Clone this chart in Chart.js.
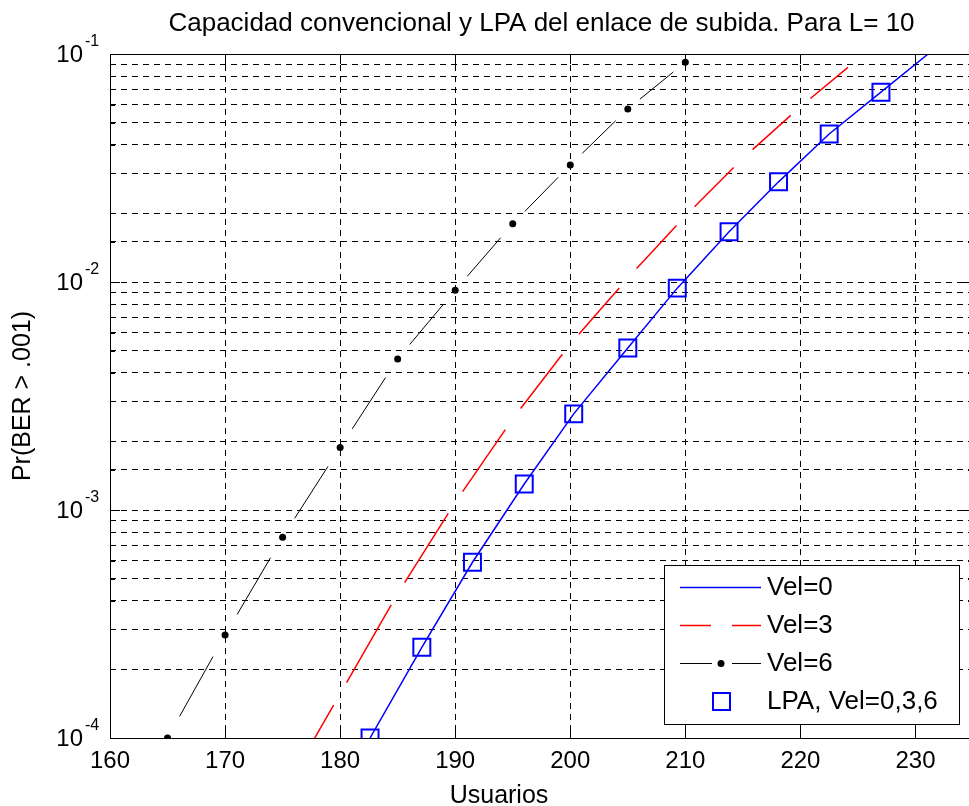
<!DOCTYPE html>
<html>
<head>
<meta charset="utf-8">
<title>Capacidad convencional y LPA del enlace de subida</title>
<script src="https://cdn.jsdelivr.net/npm/chart.js@4.4.1/dist/chart.umd.min.js"></script>
<style>
  html, body { margin: 0; padding: 0; background: #fff; overflow: hidden; }
  #wrap { width: 980px; height: 806px; }
</style>
</head>
<body>
<div id="wrap"><canvas id="berChart" width="980" height="806"></canvas></div>
<script>
const FONT = 'Arial, "Liberation Sans", Helvetica, sans-serif';

// Vel=0 : curva continua
const vel0Users = [182.6, 187.1, 191.5, 196.0, 200.3, 205.0, 209.3, 213.8, 218.1, 222.5, 227.0, 231.1];
const vel0Prob  = [1.0e-4, 2.5e-4, 5.9e-4, 1.3e-3, 2.64e-3, 5.14e-3, 9.4e-3, 1.66e-2, 2.75e-2, 4.46e-2, 6.8e-2, 1.0e-1];

// Vel=3 : discontinua
const vel3Users = [175, 180, 185, 190, 195, 200, 205, 210, 215, 220, 225];
const vel3Prob  = [5.7e-5, 1.56e-4, 4.3e-4, 1.08e-3, 2.51e-3, 5.35e-3, 1.04e-2, 1.95e-2, 3.49e-2, 5.87e-2, 9.5e-2];

// Vel=6 : raya-punto con marcadores
const vel6Users = [165, 170, 175, 180, 185, 190, 195, 200, 205, 210];
const vel6Prob  = [1.0e-4, 2.83e-4, 7.6e-4, 1.88e-3, 4.6e-3, 9.2e-3, 1.8e-2, 3.26e-2, 5.74e-2, 9.2e-2];

// LPA (mismos puntos para Vel=0,3,6)
const lpaUsers = [182.6, 187.1, 191.5, 196.0, 200.3, 205.0, 209.3, 213.8, 218.1, 222.5, 227.0];
const lpaProb  = [1.0e-4, 2.5e-4, 5.9e-4, 1.3e-3, 2.64e-3, 5.14e-3, 9.4e-3, 1.66e-2, 2.75e-2, 4.46e-2, 6.8e-2];

const xMin = 160, xMax = 235, xStep = 10;
const yMin = 1e-4, yMax = 1e-1;

const legendLabels = ['Vel=0', 'Vel=3', 'Vel=6', 'LPA, Vel=0,3,6'];

function toPoints(xs, ys) {
    return xs.map((x, i) => ({ x: x, y: ys[i] }));
}

// each segment gets its own dash so the gaps sit at the data points
function gappedDash(gapFn) {
    return function(ctx) {
        const len = Math.hypot(ctx.p1.x - ctx.p0.x, ctx.p1.y - ctx.p0.y);
        const gap = gapFn(len);
        return [0, gap, Math.max(len - 2 * gap, 1), len + 100];
    };
}

const frameAndLegend = {
    id: 'frameAndLegend',
    afterDraw(chart) {
        const { ctx, chartArea: a } = chart;
        const x = chart.scales.x, y = chart.scales.y;
        ctx.save();

        // marco de los ejes
        ctx.strokeStyle = '#000';
        ctx.lineWidth = 1;
        ctx.setLineDash([]);
        ctx.strokeRect(Math.round(a.left) + 0.5, Math.round(a.top) + 0.5,
            Math.round(a.right - a.left), Math.round(a.bottom - a.top));

        // marcas interiores
        ctx.beginPath();
        x.ticks.forEach(t => {
            const px = Math.round(x.getPixelForValue(t.value)) + 0.5;
            ctx.moveTo(px, a.bottom); ctx.lineTo(px, a.bottom - 10);
            ctx.moveTo(px, a.top); ctx.lineTo(px, a.top + 10);
        });
        y.ticks.forEach(t => {
            const py = Math.round(y.getPixelForValue(t.value)) + 0.5;
            const dec = Math.abs(Math.log10(t.value) - Math.round(Math.log10(t.value))) < 1e-6;
            const len = dec ? 10 : 5;
            ctx.moveTo(a.left, py); ctx.lineTo(a.left + len, py);
            ctx.moveTo(a.right, py); ctx.lineTo(a.right - len, py);
        });
        ctx.stroke();

        // etiquetas 10^n
        ctx.fillStyle = '#000';
        y.ticks.forEach(t => {
            const e = Math.log10(t.value);
            if (Math.abs(e - Math.round(e)) > 1e-6) return;
            const py = y.getPixelForValue(t.value);
            ctx.font = '24px ' + FONT;
            ctx.textAlign = 'right';
            ctx.textBaseline = 'middle';
            ctx.fillText('10', a.left - 27, py + 1);
            ctx.font = '16px ' + FONT;
            ctx.textAlign = 'left';
            ctx.fillText(String(Math.round(e)), a.left - 25, py - 12);
        });

        // titulo del eje x
        ctx.font = '25px ' + FONT;
        ctx.textAlign = 'center';
        ctx.textBaseline = 'alphabetic';
        ctx.fillText('Usuarios', 499, 803);

        // leyenda
        const box = { left: 664, top: 565, right: 959, bottom: 724 };
        ctx.fillStyle = '#fff';
        ctx.fillRect(box.left, box.top, box.right - box.left, box.bottom - box.top);
        ctx.strokeStyle = '#000';
        ctx.lineWidth = 1;
        ctx.strokeRect(box.left + 0.5, box.top + 0.5, box.right - box.left, box.bottom - box.top);

        const ds = chart.data.datasets;
        const rows = [587, 625, 663, 701];
        const x0 = 680, x1 = 761, xm = 721;

        ctx.lineWidth = ds[0].borderWidth;
        ctx.strokeStyle = ds[0].borderColor;
        ctx.beginPath(); ctx.moveTo(x0, rows[0] + 0.5); ctx.lineTo(x1, rows[0] + 0.5); ctx.stroke();

        ctx.lineWidth = ds[1].borderWidth;
        ctx.strokeStyle = ds[1].borderColor;
        ctx.beginPath();
        ctx.moveTo(x0, rows[1] + 0.5); ctx.lineTo(711, rows[1] + 0.5);
        ctx.moveTo(732, rows[1] + 0.5); ctx.lineTo(x1, rows[1] + 0.5);
        ctx.stroke();

        ctx.lineWidth = ds[2].borderWidth;
        ctx.strokeStyle = ds[2].borderColor;
        ctx.beginPath();
        ctx.moveTo(x0, rows[2] + 0.5); ctx.lineTo(712, rows[2] + 0.5);
        ctx.moveTo(732, rows[2] + 0.5); ctx.lineTo(x1, rows[2] + 0.5);
        ctx.stroke();
        ctx.fillStyle = ds[2].pointBackgroundColor;
        ctx.beginPath(); ctx.arc(xm, rows[2] + 0.5, ds[2].pointRadius, 0, Math.PI * 2); ctx.fill();

        ctx.lineWidth = ds[3].pointBorderWidth;
        ctx.strokeStyle = ds[3].pointBorderColor;
        ctx.strokeRect(xm - 8, rows[3] - 8, 17, 17);

        ctx.fillStyle = '#000';
        ctx.font = '26px ' + FONT;
        ctx.textAlign = 'left';
        ctx.textBaseline = 'middle';
        legendLabels.forEach((txt, i) => ctx.fillText(txt, 767, rows[i] + 1));

        ctx.restore();
    }
};

const ctx = document.getElementById('berChart').getContext('2d');
new Chart(ctx, {
    type: 'line',
    data: {
        datasets: [{
            label: legendLabels[0],
            data: toPoints(vel0Users, vel0Prob),
            borderColor: '#0000ff',
            borderWidth: 1.5,
            pointRadius: 0
        }, {
            label: legendLabels[1],
            data: toPoints(vel3Users, vel3Prob),
            borderColor: '#ff0000',
            borderWidth: 1.5,
            pointRadius: 0,
            segment: { borderDash: gappedDash(() => 13) }
        }, {
            label: legendLabels[2],
            data: toPoints(vel6Users, vel6Prob),
            borderColor: '#000000',
            borderWidth: 1,
            pointRadius: 3.5,
            pointBackgroundColor: '#000000',
            pointBorderWidth: 0,
            segment: { borderDash: gappedDash(len => len * 0.21) }
        }, {
            label: legendLabels[3],
            data: toPoints(lpaUsers, lpaProb),
            showLine: false,
            pointStyle: 'rect',
            pointRadius: 12,
            pointBorderWidth: 2,
            pointBorderColor: '#0000ff',
            pointBackgroundColor: 'rgba(0,0,0,0)'
        }]
    },
    options: {
        responsive: false,
        animation: false,
        devicePixelRatio: 1,
        layout: { autoPadding: false, padding: { left: 0, right: 7, top: 0, bottom: 0 } },
        plugins: {
            legend: { display: false },
            tooltip: { enabled: false },
            title: {
                display: true,
                text: 'Capacidad convencional y LPA del enlace de subida. Para L= 10',
                color: '#000',
                fullSize: false,
                font: { family: FONT, size: 26, weight: 'normal', lineHeight: '30px' },
                padding: { top: 9, bottom: 15 }
            }
        },
        scales: {
            x: {
                type: 'linear',
                min: xMin,
                max: xMax,
                ticks: {
                    stepSize: xStep,
                    includeBounds: false,
                    color: '#000',
                    padding: 9,
                    maxRotation: 0,
                    font: { family: FONT, size: 24 }
                },
                afterBuildTicks: s => { s.ticks = s.ticks.filter(t => t.value % xStep === 0); },
                afterFit: s => { s.height = 68; },
                grid: { color: '#000', lineWidth: 1, drawTicks: false },
                border: { display: false, dash: [6, 5] }
            },
            y: {
                type: 'logarithmic',
                min: yMin,
                max: yMax,
                ticks: { display: false },
                afterFit: s => { s.width = 110; },
                grid: { color: '#000', lineWidth: 1, drawTicks: false },
                border: { display: false, dash: [6, 5] },
                title: {
                    display: true,
                    text: 'Pr(BER > .001)',
                    color: '#000',
                    font: { family: FONT, size: 25 },
                    padding: { top: 8, bottom: 0 }
                }
            }
        }
    },
    plugins: [frameAndLegend]
});
</script>
</body>
</html>
